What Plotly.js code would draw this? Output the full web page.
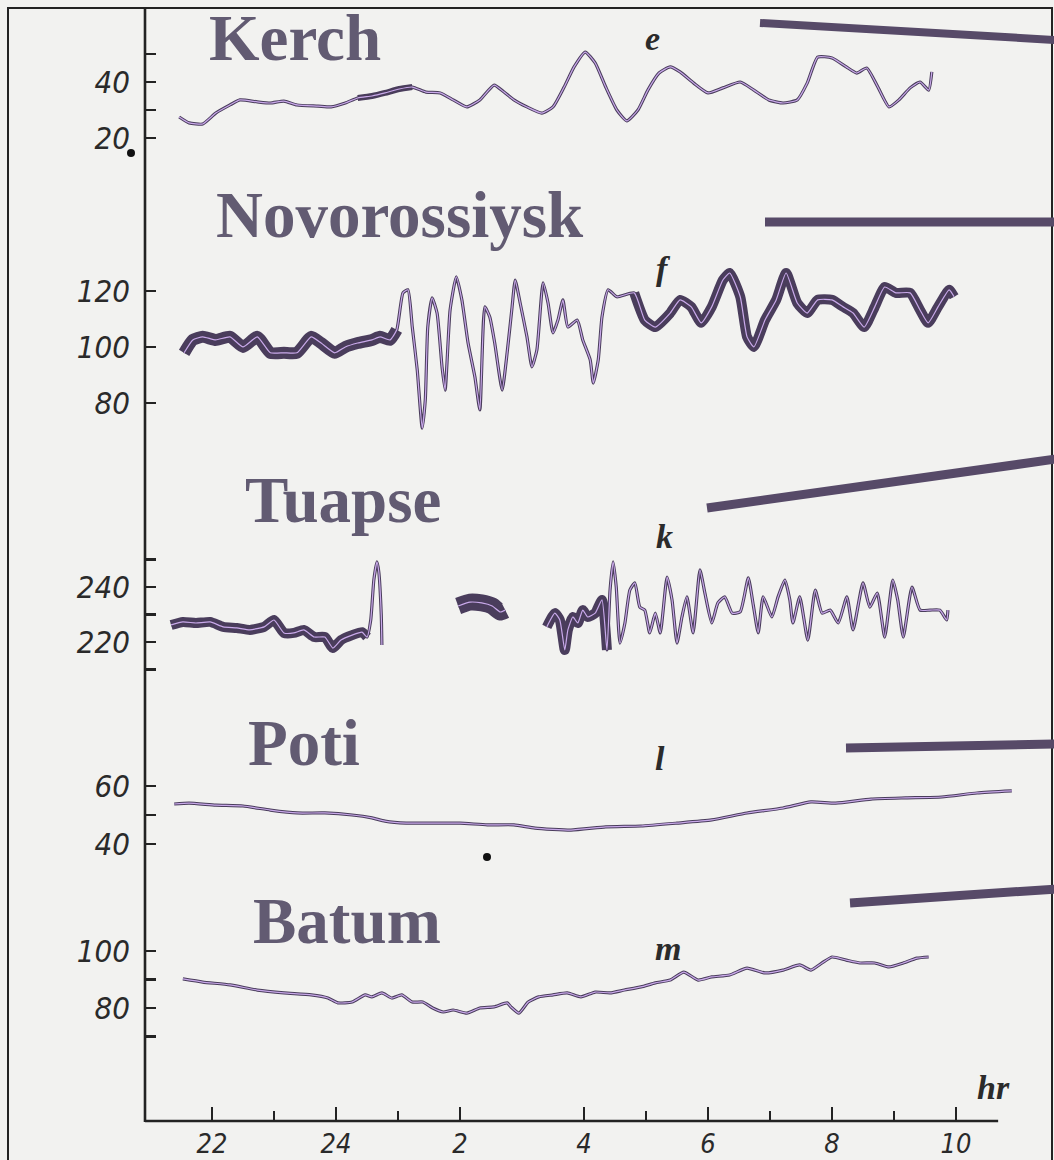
<!DOCTYPE html>
<html>
<head>
<meta charset="utf-8">
<script src="https://cdn.plot.ly/plotly-3.0.1.min.js"></script>
<style>
  html, body { margin: 0; padding: 0; background: #f2f2f0; }
  #chart { width: 1054px; height: 1160px; }
</style>
</head>
<body>
<div id="chart"></div>
<script>
// Sea-level records at five Black Sea gauges, hours on a running clock
// (24 = midnight, 26 = 2 h, ... 34 = 10 h).

const hourTicks = [22, 24, 26, 28, 30, 32, 34];
const hourTickText = ['22', '24', '2', '4', '6', '8', '10'];
const hourMinor = [23, 25, 29, 31, 33];

// Kerch (e)
const kerchT = [21.47,21.63,21.85,22.06,22.29,22.45,22.73,22.94,23.16,23.37,23.71,23.92,24.15,24.35,24.58,24.79,25.02,25.23,25.45,25.68,25.89,26.11,26.32,26.55,26.71,26.87,27.08,27.32,27.50,27.68,27.84,28.02,28.18,28.35,28.53,28.69,28.87,29.03,29.21,29.39,29.55,29.77,30.00,30.24,30.52,30.74,30.98,31.21,31.44,31.60,31.77,32.00,32.23,32.40,32.56,32.74,32.92,33.08,33.26,33.42,33.56,33.61];
const kerchV = [27.5,25.4,25.0,28.9,31.8,33.6,32.9,32.5,33.2,31.8,31.4,31.1,32.5,34.3,35.0,36.1,37.5,38.2,36.4,36.1,33.6,31.1,33.6,38.9,36.4,33.6,31.1,28.9,31.1,38.2,45.4,50.7,46.8,38.2,30.0,26.1,30.0,37.1,43.2,45.4,43.6,39.6,36.1,37.9,40.0,37.1,33.6,32.5,33.6,39.6,48.9,48.6,45.4,43.2,45.0,38.2,31.1,33.6,37.9,40.0,37.1,43.6];

// Novorossiysk (f)
const novT = [21.55,21.69,21.85,22.06,22.29,22.50,22.73,22.94,23.16,23.37,23.60,23.76,23.98,24.15,24.35,24.58,
  24.71,24.87,24.98,25.08,25.16,25.23,25.31,25.39,25.44,25.48,25.55,25.63,25.71,25.76,25.84,25.94,26.03,26.13,26.24,26.32,26.40,26.48,26.56,26.68,26.76,26.84,26.89,26.97,27.08,27.16,27.24,27.34,27.42,27.50,27.58,27.66,27.74,27.89,27.98,28.10,28.15,28.23,28.29,28.39,28.53,
  28.81,28.98,29.15,29.39,29.55,29.73,29.89,30.06,30.24,30.35,30.52,30.63,30.74,30.92,31.10,31.26,31.44,31.60,31.77,32.00,32.18,32.34,32.52,32.69,32.85,33.03,33.26,33.42,33.55,33.71,33.89,33.97];
const novV = [97.9,102.5,103.6,102.5,103.6,100.0,103.6,97.9,97.9,97.9,103.6,101.4,97.9,100.0,101.4,102.5,
  103.6,102.5,106.1,119.3,120.4,107.1,91.8,71.0,81.1,107.1,117.5,112.1,92.9,84.6,113.2,125.0,116.8,101.4,89.3,77.5,114.3,110.7,101.4,84.6,97.9,114.3,123.9,115.7,103.6,92.9,98.9,122.9,115.7,105.0,109.6,116.8,107.1,109.6,102.5,95.4,87.1,95.4,110.7,120.4,117.9,
  119.3,109.6,107.1,112.1,116.8,114.3,108.6,114.3,123.9,126.4,117.9,103.6,100.0,109.6,116.8,126.4,115.7,112.1,116.8,116.8,114.3,112.1,107.1,114.3,121.4,119.3,119.3,113.2,108.6,114.3,120.4,117.9];

// Tuapse (k) - record broken into three pieces (null = no record)
const tuaT = [21.34,21.53,21.74,21.97,22.18,22.40,22.61,22.84,23.00,23.16,23.32,23.48,23.65,23.82,23.95,24.08,24.26,24.42,24.50,24.56,24.61,24.66,24.69,24.73,24.74,
  25.30,
  25.97,26.16,26.35,26.52,26.65,26.73,
  27.00,
  27.40,27.53,27.61,27.69,27.74,27.82,27.90,27.98,28.06,28.18,28.29,28.37,28.42,28.47,28.52,28.58,28.66,28.74,28.82,28.90,28.98,29.06,29.15,29.23,29.34,29.42,29.50,29.58,29.66,29.76,29.87,29.95,30.06,30.16,30.27,30.39,30.52,30.65,30.73,30.81,30.89,31.03,31.13,31.24,31.32,31.37,31.48,31.61,31.73,31.84,31.97,32.10,32.24,32.34,32.50,32.61,32.73,32.85,32.98,33.06,33.15,33.29,33.42,33.58,33.74,33.85,33.87];
const tuaV = [226.2,227.3,226.9,227.3,225.5,225.1,224.4,225.5,228.0,223.3,223.3,224.4,221.8,221.8,217.8,220.7,222.5,223.6,221.8,228.0,242.5,249.1,245.5,229.8,218.9,
  null,
  233.1,234.5,234.2,233.1,230.9,231.6,
  null,
  225.5,230.5,228.0,217.1,224.4,229.1,226.9,231.6,229.1,230.5,235.3,217.1,238.9,249.1,240.0,219.6,226.9,238.9,241.5,232.7,231.6,223.3,230.5,223.3,243.6,235.3,219.6,229.1,236.4,223.3,246.2,237.8,226.9,234.2,236.4,230.5,231.0,243.3,233.5,223.3,236.4,229.1,236.4,242.5,235.3,226.9,236.4,220.7,238.9,230.5,231.6,226.9,236.4,224.4,241.5,232.7,237.8,221.8,242.5,235.3,221.8,240.0,231.6,231.6,231.6,228.0,231.6];

// Poti (l)
const potiT = [21.39,21.63,22.06,22.50,22.94,23.37,23.82,24.26,24.58,24.79,25.13,25.56,26.00,26.44,26.87,27.21,27.79,28.35,28.92,29.50,30.06,30.63,31.21,31.66,32.06,32.63,33.19,33.77,34.34,34.90];
const potiV = [53.8,54.1,53.4,53.1,51.7,50.7,50.7,50.0,49.0,47.9,47.2,47.2,47.2,46.6,46.6,45.5,44.8,45.9,46.2,47.2,48.3,50.7,52.4,54.5,54.1,55.5,55.9,56.2,57.6,58.3];

// Batum (m)
const batT = [21.53,21.85,22.29,22.73,23.16,23.60,23.87,24.03,24.26,24.47,24.58,24.74,24.90,25.06,25.23,25.40,25.56,25.73,25.89,26.11,26.32,26.55,26.76,26.82,26.95,27.10,27.27,27.50,27.73,27.95,28.18,28.42,28.65,28.92,29.15,29.39,29.61,29.84,30.06,30.35,30.63,30.92,31.21,31.48,31.66,31.84,32.00,32.23,32.45,32.69,32.92,33.15,33.37,33.56];
const batV = [90.2,89.1,88.1,86.3,85.3,84.6,83.5,81.8,82.1,84.6,83.9,85.3,83.5,84.6,82.1,82.1,80.0,78.6,79.3,78.2,80.0,80.4,81.8,80.4,78.2,82.1,83.9,84.6,85.3,83.9,85.6,85.3,86.3,87.4,88.8,89.8,92.6,89.8,90.9,91.6,94.0,92.3,93.3,95.1,93.3,95.8,97.9,96.8,95.8,95.8,94.4,95.8,97.5,97.9];

const stationNames = ['Kerch', 'Novorossiysk', 'Tuapse', 'Poti', 'Batum'];
const stationLetters = ['e', 'f', 'k', 'l', 'm'];

// ---------------------------------------------------------------------------
const W = 1054, H = 1160;
const px = v => v / W;          // pixel column -> paper x
const py = v => 1 - v / H;      // pixel row -> paper y

const INK = '#232323';
const PEN_DARK = '#4a3d5c';
const PEN_LIGHT = '#c9a9ea';
const LABEL_INK = '#625b72';
const AXIS_X = 145, AXIS_Y = 1121;

const tickFont = { family: 'DejaVu Sans Condensed, Liberation Sans Narrow, sans-serif', size: 31, color: '#2a2a2a', style: 'italic' };
const hourFont = Object.assign({}, tickFont, { size: 27 });

// pieces of a record that the pen drew as a broad band
function band(t, v, t0, t1) {
  const x = [], y = [];
  t.forEach((tt, i) => { if (tt >= t0 && tt <= t1) { x.push(tt); y.push(v[i]); } else if (x.length && x[x.length - 1] !== null) { x.push(null); y.push(null); } });
  return { x, y };
}

const stations = [
  { t: kerchT, v: kerchV, axis: 'y2', bands: [[24.3, 25.3, 6]] },
  { t: novT, v: novV, axis: 'y3', bands: [[21.5, 24.99, 12], [28.75, 34.0, 10]] },
  { t: tuaT, v: tuaV, axis: 'y4', bands: [[21.3, 24.5, 10], [25.9, 26.8, 17], [27.35, 28.4, 10]] },
  { t: potiT, v: potiV, axis: 'y5', bands: [] },
  { t: batT, v: batV, axis: 'y6', bands: [] }
];

const pen = (color, width) => ({ color: color, width: width, shape: 'spline', smoothing: 0.5 });

const traces = [];
stations.forEach(s => {
  s.bands.forEach(([a, b, w]) => {
    const d = band(s.t, s.v, a, b);
    traces.push({ x: d.x, y: d.y, yaxis: s.axis, type: 'scatter', mode: 'lines', connectgaps: false,
      line: pen(PEN_DARK, w), hoverinfo: 'skip' });
  });
  traces.push({ x: s.t, y: s.v, yaxis: s.axis, type: 'scatter', mode: 'lines', connectgaps: false,
    line: pen(PEN_DARK, 3.2), hoverinfo: 'skip' });
  traces.push({ x: s.t, y: s.v, yaxis: s.axis, type: 'scatter', mode: 'lines', connectgaps: false,
    line: pen(PEN_LIGHT, 1.2), hoverinfo: 'skip' });
});

function stationAxis(top, bottom, range, vals, text) {
  return {
    domain: [py(bottom), py(top)], range: range, anchor: 'x',
    showline: false, showgrid: false, zeroline: false, fixedrange: true,
    ticks: 'inside', ticklen: 11, tickwidth: 2.4, tickcolor: INK,
    tickvals: vals, ticktext: text, tickfont: tickFont, ticklabelstandoff: 14
  };
}

const layout = {
  width: W, height: H,
  margin: { l: 0, r: 0, t: 0, b: 0 },
  paper_bgcolor: '#f2f2f0', plot_bgcolor: 'rgba(0,0,0,0)',
  showlegend: false,
  xaxis: {
    domain: [px(AXIS_X), px(1016)], range: [20.919, 34.968], anchor: 'free', position: py(AXIS_Y),
    showline: false, showgrid: false, zeroline: false, fixedrange: true,
    ticks: 'inside', ticklen: 14, tickwidth: 2.4, tickcolor: INK,
    tickvals: hourTicks, ticktext: hourTickText, tickfont: hourFont, ticklabelstandoff: 4,
    minor: { tickmode: 'array', tickvals: hourMinor, ticks: 'inside', ticklen: 10, tickwidth: 2.2, tickcolor: INK }
  },
  yaxis2: stationAxis(10, 175, [6.79, 65.71], [20, 30, 40, 50], ['20', '', '40', '']),
  yaxis3: stationAxis(180, 450, [63.2, 159.6], [80, 100, 120], ['80', '100', '120']),
  yaxis4: stationAxis(545, 700, [198.91, 255.27], [210, 220, 230, 240, 250], ['', '220', '', '240', '']),
  yaxis5: stationAxis(760, 870, [31.03, 68.97], [40, 50, 60], ['40', '', '60']),
  yaxis6: stationAxis(930, 1100, [47.72, 107.37], [70, 80, 90, 100], ['', '80', '', '100']),
  shapes: [
    // page frame
    { type: 'rect', xref: 'paper', yref: 'paper', x0: px(8), x1: px(1052), y0: py(1170), y1: py(8), line: { color: INK, width: 2 }, fillcolor: 'rgba(0,0,0,0)' },
    // value axis shared by all records
    { type: 'line', xref: 'paper', yref: 'paper', x0: px(AXIS_X), x1: px(AXIS_X), y0: py(AXIS_Y + 1), y1: py(8), line: { color: INK, width: 2.6 } },
    // time axis
    { type: 'line', xref: 'x', yref: 'paper', x0: 20.919, x1: 34.68, y0: py(AXIS_Y), y1: py(AXIS_Y), line: { color: INK, width: 2.6 } },
    // pointer strokes beside each record
    { type: 'line', xref: 'paper', yref: 'paper', x0: px(760), y0: py(23), x1: px(1056), y1: py(40), line: { color: '#574a68', width: 8 } },
    { type: 'line', xref: 'paper', yref: 'paper', x0: px(765), y0: py(222), x1: px(1056), y1: py(222), line: { color: '#574a68', width: 9 } },
    { type: 'line', xref: 'paper', yref: 'paper', x0: px(707), y0: py(508), x1: px(1056), y1: py(459), line: { color: '#574a68', width: 9 } },
    { type: 'line', xref: 'paper', yref: 'paper', x0: px(846), y0: py(748), x1: px(1056), y1: py(744), line: { color: '#574a68', width: 9 } },
    { type: 'line', xref: 'paper', yref: 'paper', x0: px(850), y0: py(903), x1: px(1056), y1: py(889), line: { color: '#574a68', width: 9 } },
    // ink dots
    { type: 'circle', xref: 'paper', yref: 'paper', x0: px(127), x1: px(135), y0: py(157), y1: py(149), fillcolor: '#111', line: { width: 0 } },
    { type: 'circle', xref: 'paper', yref: 'paper', x0: px(483), x1: px(491), y0: py(861), y1: py(853), fillcolor: '#111', line: { width: 0 } }
  ],
  annotations: []
};

const namePos = [[295, 38], [400, 215], [343, 500], [304, 743], [347, 921]];
stationNames.forEach((n, i) => {
  layout.annotations.push({ text: '<b>' + n + '</b>', xref: 'paper', yref: 'paper', x: px(namePos[i][0]), y: py(namePos[i][1]),
    xanchor: 'center', yanchor: 'middle', showarrow: false,
    font: { family: 'Liberation Serif, Times New Roman, serif', size: 65, color: LABEL_INK } });
});
const letterPos = [[652, 38], [663, 268], [664, 536], [660, 758], [668, 948]];
stationLetters.forEach((c, i) => {
  layout.annotations.push({ text: '<b><i>' + c + '</i></b>', xref: 'paper', yref: 'paper', x: px(letterPos[i][0]), y: py(letterPos[i][1]),
    xanchor: 'center', yanchor: 'middle', showarrow: false,
    font: { family: 'Liberation Serif, Times New Roman, serif', size: 34, color: '#2b2b2b' } });
});
layout.annotations.push({ text: '<b><i>hr</i></b>', xref: 'paper', yref: 'paper', x: px(993), y: py(1087),
  xanchor: 'center', yanchor: 'middle', showarrow: false,
  font: { family: 'Liberation Serif, Times New Roman, serif', size: 34, color: '#2b2b2b' } });

Plotly.newPlot('chart', traces, layout, { staticPlot: true, displayModeBar: false });
</script>
</body>
</html>
